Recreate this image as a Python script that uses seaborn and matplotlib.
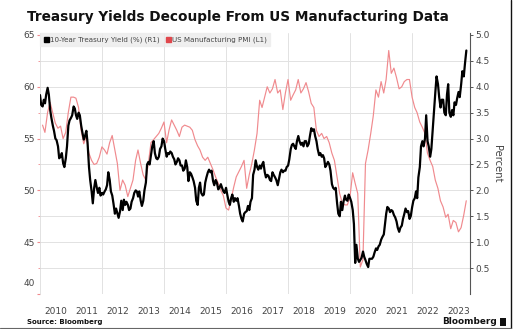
import numpy as np
import pandas as pd
import matplotlib
matplotlib.use("Agg")
import matplotlib.pyplot as plt
import matplotlib.transforms as mtransforms
import seaborn as sns
from matplotlib.lines import Line2D
from matplotlib.patches import Rectangle

# ---------------- data ----------------
# US Manufacturing PMI, monthly, Jan 2010 - Sep 2023 (left axis)
pmi_2010 = [56.3, 55.6, 57.5, 58.5, 57.5, 56.5, 56.0, 56.2, 55.0, 55.6, 57.5, 59.0]
pmi_2011 = [59.0, 58.9, 58.0, 55.8, 54.5, 55.2, 53.6, 52.9, 52.5, 52.6, 53.2, 54.2]
pmi_2012 = [53.9, 53.5, 54.6, 55.3, 53.9, 52.6, 50.0, 51.0, 50.5, 49.4, 50.2, 51.0]
pmi_2013 = [52.9, 53.9, 52.6, 51.5, 51.0, 52.6, 54.6, 54.9, 55.2, 55.5, 56.0, 56.6]
pmi_2014 = [54.6, 55.8, 56.8, 56.3, 55.8, 55.2, 56.1, 56.3, 56.2, 56.1, 55.8, 54.9]
pmi_2015 = [54.3, 53.9, 53.2, 52.9, 53.2, 52.6, 52.0, 51.3, 50.7, 50.0, 49.5, 48.3]
pmi_2016 = [48.1, 49.1, 50.3, 51.3, 51.8, 52.3, 52.9, 50.2, 51.5, 52.6, 53.9, 55.5]
pmi_2017 = [58.7, 58.0, 59.0, 60.0, 59.4, 59.8, 60.7, 59.4, 59.7, 57.8, 59.4, 60.7]
pmi_2018 = [58.7, 59.2, 59.7, 60.7, 59.4, 59.8, 60.4, 59.5, 58.4, 58.0, 55.8, 55.2]
pmi_2019 = [55.5, 55.0, 55.2, 54.6, 53.6, 52.9, 51.3, 49.7, 48.8, 48.6, 48.6, 49.4]
pmi_2020 = [51.7, 50.7, 49.7, 42.6, 43.3, 52.6, 53.9, 55.5, 57.2, 59.7, 59.0, 60.5]
pmi_2021 = [59.4, 60.7, 63.5, 61.3, 61.8, 60.9, 59.8, 60.0, 60.5, 60.7, 60.7, 59.0]
pmi_2022 = [58.0, 57.5, 56.6, 56.1, 55.5, 53.6, 52.9, 52.3, 51.0, 50.2, 49.0, 48.4]
pmi_2023 = [47.4, 47.7, 46.3, 47.1, 46.9, 46.0, 46.4, 47.6, 49.0]
pmi_values = (pmi_2010 + pmi_2011 + pmi_2012 + pmi_2013 + pmi_2014 + pmi_2015 + pmi_2016
              + pmi_2017 + pmi_2018 + pmi_2019 + pmi_2020 + pmi_2021 + pmi_2022 + pmi_2023)

# 10-Year Treasury yield (%), twice a month, Jan 2010 - Oct 2023 (right axis)
yld_2010 = [3.84, 3.65, 3.62, 3.75, 3.68, 3.85, 3.98, 3.85, 3.55, 3.40, 3.25, 3.15,
            3.00, 2.97, 2.85, 2.62, 2.65, 2.72, 2.52, 2.45, 2.62, 2.85, 3.25, 3.35]
yld_2011 = [3.40, 3.45, 3.62, 3.58, 3.45, 3.38, 3.50, 3.45, 3.25, 3.12, 2.98, 3.05,
            3.15, 2.92, 2.45, 2.20, 1.98, 1.75, 2.05, 2.20, 2.05, 1.95, 2.05, 1.90]
yld_2012 = [1.95, 1.92, 1.98, 2.02, 2.10, 2.35, 2.20, 1.98, 1.90, 1.75, 1.55, 1.65,
            1.55, 1.47, 1.60, 1.80, 1.62, 1.82, 1.72, 1.78, 1.72, 1.62, 1.65, 1.78]
yld_2013 = [1.85, 1.95, 2.00, 1.98, 1.88, 1.98, 1.80, 1.70, 1.80, 2.00, 2.15, 2.50,
            2.55, 2.50, 2.70, 2.85, 2.95, 2.72, 2.62, 2.60, 2.65, 2.80, 2.85, 3.00]
yld_2014 = [2.95, 2.80, 2.65, 2.72, 2.70, 2.75, 2.72, 2.65, 2.60, 2.50, 2.55, 2.62,
            2.58, 2.48, 2.48, 2.38, 2.42, 2.58, 2.45, 2.18, 2.35, 2.32, 2.25, 2.18]
yld_2015 = [2.05, 1.80, 1.72, 2.05, 2.15, 1.95, 1.90, 1.92, 2.15, 2.25, 2.35, 2.40,
            2.35, 2.38, 2.18, 2.10, 2.20, 2.15, 2.02, 2.05, 2.12, 2.05, 1.98, 1.95]
yld_2016 = [2.05, 1.92, 1.78, 1.72, 1.85, 1.92, 1.78, 1.85, 1.80, 1.85, 1.70, 1.55,
            1.45, 1.40, 1.55, 1.58, 1.60, 1.70, 1.62, 1.78, 1.85, 2.30, 2.40, 2.58]
yld_2017 = [2.45, 2.40, 2.48, 2.42, 2.50, 2.55, 2.35, 2.25, 2.30, 2.28, 2.20, 2.18,
            2.35, 2.30, 2.25, 2.20, 2.10, 2.22, 2.35, 2.40, 2.35, 2.38, 2.38, 2.45]
yld_2018 = [2.48, 2.60, 2.80, 2.88, 2.90, 2.85, 2.80, 2.95, 3.05, 2.95, 2.88, 2.92,
            2.85, 2.95, 2.95, 2.85, 2.90, 3.05, 3.20, 3.15, 3.18, 3.05, 2.95, 2.80]
yld_2019 = [2.68, 2.72, 2.65, 2.68, 2.62, 2.45, 2.50, 2.55, 2.50, 2.38, 2.12, 2.05,
            2.02, 2.05, 1.75, 1.55, 1.50, 1.78, 1.62, 1.78, 1.90, 1.82, 1.80, 1.92]
yld_2020 = [1.85, 1.78, 1.62, 1.35, 0.60, 0.95, 0.68, 0.62, 0.66, 0.70, 0.82, 0.72,
            0.65, 0.58, 0.52, 0.68, 0.68, 0.68, 0.72, 0.80, 0.88, 0.85, 0.92, 0.95]
yld_2021 = [1.05, 1.10, 1.15, 1.35, 1.55, 1.68, 1.65, 1.58, 1.62, 1.60, 1.52, 1.48,
            1.40, 1.28, 1.20, 1.28, 1.32, 1.45, 1.55, 1.65, 1.58, 1.60, 1.45, 1.50]
yld_2022 = [1.68, 1.80, 1.85, 1.98, 1.85, 2.25, 2.45, 2.85, 2.95, 2.85, 3.00, 3.45,
            2.95, 2.85, 2.65, 2.80, 3.20, 3.55, 3.90, 4.20, 4.05, 3.80, 3.60, 3.75]
yld_2023 = [3.75, 3.50, 3.45, 3.85, 4.05, 3.50, 3.42, 3.55, 3.45, 3.70, 3.65, 3.78,
            3.90, 3.80, 4.05, 4.30, 4.20, 4.45, 4.70]
yield_values = (yld_2010 + yld_2011 + yld_2012 + yld_2013 + yld_2014 + yld_2015 + yld_2016
                + yld_2017 + yld_2018 + yld_2019 + yld_2020 + yld_2021 + yld_2022 + yld_2023)

year_labels = list(range(2010, 2024))
left_ticks = [40, 45, 50, 55, 60, 65]
right_ticks = [0.5, 1.0, 1.5, 2.0, 2.5, 3.0, 3.5, 4.0, 4.5, 5.0]

title = "Treasury Yields Decouple From US Manufacturing Data"
yield_label = "10-Year Treasury Yield (%) (R1)"
pmi_label = "US Manufacturing PMI (L1)"

# ---------------- frames ----------------
pmi_df = pd.DataFrame({"date": pd.date_range("2010-01-31", periods=len(pmi_values), freq="ME"),
                       "pmi": pmi_values})
yld_df = pd.DataFrame({"date": pd.date_range("2010-01-01", periods=len(yield_values), freq="SMS"),
                       "yld": yield_values})

sns.set_theme(style="white")
plt.rcParams["font.family"] = ["DejaVu Sans"]

RED = "#f08a8e"
GRID = "#e2e2e2"
TXT = "#444444"

W, H = 517, 329
fig = plt.figure(figsize=(W / 100, H / 100), dpi=100)
fig.patch.set_facecolor("white")
ax = fig.add_axes([40 / W, 1 - 294 / H, 430 / W, (294 - 33) / H])
ax2 = ax.twinx()

sns.lineplot(data=pmi_df, x="date", y="pmi", ax=ax, color=RED, linewidth=0.85)
sns.lineplot(data=yld_df, x="date", y="yld", ax=ax2, color="black", linewidth=1.6)

ax.set_xlim(pd.Timestamp("2010-01-01"), pd.Timestamp("2023-11-13"))
ax.set_ylim(40, 65.19)
ax2.set_ylim(0, 5.038)

# x axis: year labels at mid-year, grid at every second January
ax.set_xticks([pd.Timestamp(f"{y}-07-01") for y in year_labels])
ax.set_xticklabels([str(y) for y in year_labels])
ax.set_xticks([pd.Timestamp(f"{y}-01-01") for y in year_labels[2::2]], minor=True)
ax.tick_params(axis="x", which="both", length=0, pad=9.5, labelsize=6.5, labelcolor=TXT)
ax.grid(axis="x", which="minor", color=GRID, linewidth=0.7)
ax.grid(axis="x", which="major", visible=False)

# left axis
ax.set_yticks(left_ticks)
ax.set_yticklabels([str(v) for v in left_ticks])
ax.set_yticks([v + 2.5 for v in left_ticks[:-1]], minor=True)
ax.tick_params(axis="y", which="major", length=2.5, width=0.8, color=RED, pad=1.5,
               labelsize=6.5, labelcolor=TXT, left=True)
ax.tick_params(axis="y", which="minor", length=1.5, width=0.6, color=RED, left=True)
ax.grid(axis="y", which="both", color=GRID, linewidth=0.7)
glines = ax.get_ygridlines()
glines[0].set_visible(False)
glines[-1].set_visible(False)
# bottom label sits slightly above the axis floor, as in the reference
lab40 = ax.get_yticklabels()[0]
lab40.set_transform(lab40.get_transform() + mtransforms.ScaledTranslation(0, 8 / 72, fig.dpi_scale_trans))

# right axis
ax2.set_yticks(right_ticks)
ax2.set_yticklabels([f"{v:.1f}" for v in right_ticks])
ax2.tick_params(axis="y", which="major", length=2.5, width=0.7, color="#555555", pad=1.5,
                labelsize=6.5, labelcolor=TXT, right=True)
ax2.set_ylabel("Percent", rotation=270, fontsize=7.2, color=TXT, labelpad=9)
ax.set_xlabel("")
ax.set_ylabel("")

for s in ["top", "bottom", "right"]:
    ax.spines[s].set_visible(False)
ax.spines["left"].set_color("#dddddd")
ax.spines["left"].set_linewidth(0.6)
for s in ["top", "bottom", "left"]:
    ax2.spines[s].set_visible(False)
ax2.spines["right"].set_color("#555555")
ax2.spines["right"].set_linewidth(0.8)

# legend
handles = [Line2D([], [], marker="s", color="black", linestyle="none", markersize=3.6),
           Line2D([], [], marker="s", color="#e0474c", linestyle="none", markersize=3.6)]
leg = ax2.legend(handles, [yield_label, pmi_label], loc="upper left", bbox_to_anchor=(0.0, 1.0),
                 ncol=2, frameon=True, fontsize=5.1, handletextpad=0.2, columnspacing=0.9,
                 borderaxespad=0.0, borderpad=0.45, handlelength=0.7, fancybox=False)
leg.get_frame().set_facecolor("#ececec")
leg.get_frame().set_edgecolor("#ececec")
for t in leg.get_texts():
    t.set_color(TXT)

# texts
fig.text(27 / W, 1 - 17 / H, title, fontsize=9.8, fontweight="bold", color="#111111",
         ha="left", va="center")
fig.text(27 / W, 1 - 322 / H, "Source: Bloomberg", fontsize=5.0, fontweight="bold",
         color="#111111", ha="left", va="center")
fig.text(497 / W, 1 - 322 / H, "Bloomberg", fontsize=6.4, fontweight="bold",
         color="#111111", ha="right", va="center")
fig.patches.append(Rectangle((500 / W, 1 - 326 / H), 6 / W, 8 / H, transform=fig.transFigure,
                             facecolor="#111111", edgecolor="none"))
# image frame lines
fig.lines.append(Line2D([511 / W, 511 / W], [0, 1], transform=fig.transFigure,
                        color="#111111", linewidth=1.0))
fig.lines.append(Line2D([0, 511 / W], [1 - 327.5 / H, 1 - 327.5 / H], transform=fig.transFigure,
                        color="#666666", linewidth=0.8))

fig.savefig("out.png", dpi=100)
